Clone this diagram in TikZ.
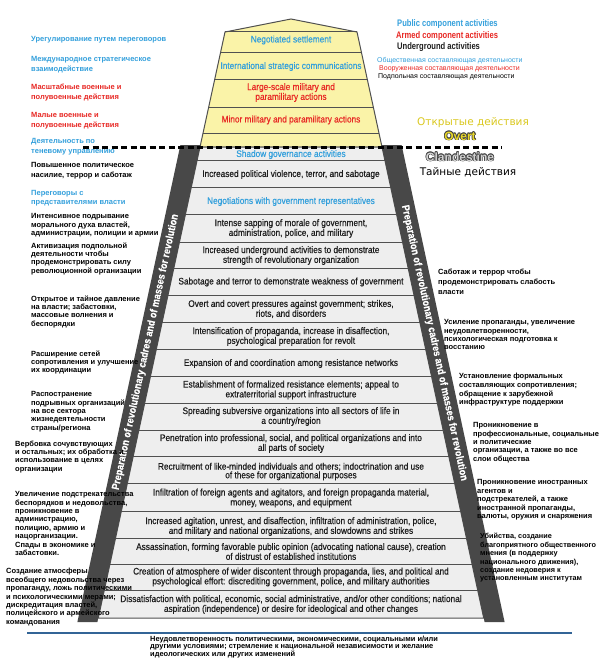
\documentclass[tikz,border=0pt]{standalone}
\usepackage{fontspec}
\setmainfont{Liberation Sans}
\newfontfamily\pyr[FakeStretch=0.87,FakeBold=0.5]{Liberation Sans}
\newfontfamily\legf[FakeStretch=0.8]{Liberation Sans}
\newfontfamily\ruf{Liberation Sans}
\newfontfamily\ovf{DejaVu Sans}
\definecolor{tblue}{RGB}{52,160,220}
\definecolor{tred}{RGB}{232,40,36}
\definecolor{tdark}{RGB}{30,30,30}
\definecolor{yfill}{RGB}{250,243,168}
\definecolor{gfill}{RGB}{238,238,238}
\definecolor{bandc}{RGB}{72,72,72}
\definecolor{olivec}{RGB}{218,200,30}
\definecolor{ovfill}{RGB}{232,215,40}
\definecolor{clfill}{RGB}{210,210,210}
\definecolor{lineblue}{RGB}{50,100,150}
\definecolor{rowline}{RGB}{80,80,80}
\newcommand\outlinedtext[3]{%
\makebox[0pt][l]{\kern0.7pt\textcolor{#1}{#3}}%
\makebox[0pt][l]{\kern-0.7pt\textcolor{#1}{#3}}%
\makebox[0pt][l]{\raisebox{0.7pt}{\textcolor{#1}{#3}}}%
\makebox[0pt][l]{\raisebox{-0.7pt}{\textcolor{#1}{#3}}}%
\makebox[0pt][l]{\kern0.5pt\raisebox{0.5pt}{\textcolor{#1}{#3}}}%
\makebox[0pt][l]{\kern-0.5pt\raisebox{0.5pt}{\textcolor{#1}{#3}}}%
\makebox[0pt][l]{\kern0.5pt\raisebox{-0.5pt}{\textcolor{#1}{#3}}}%
\makebox[0pt][l]{\kern-0.5pt\raisebox{-0.5pt}{\textcolor{#1}{#3}}}%
\textcolor{#2}{#3}}
\begin{document}
\begin{tikzpicture}[x=1pt,y=-1pt,
  rowtxt/.style={font=\pyr\fontsize{9.5}{8.6}\selectfont, align=center, inner sep=0pt, text=tdark},
  bandtxt/.style={font=\pyr\bfseries\fontsize{10.5}{10}\selectfont, text=white, inner sep=0pt},
  sidetxt/.style={font=\ruf\bfseries\fontsize{7.5}{8.4}\selectfont, align=left, anchor=north west, inner sep=0pt, text=black},
  legtxt/.style={font=\legf\bfseries\fontsize{9.5}{11}\selectfont, anchor=west, inner sep=0pt},
  legru/.style={font=\ruf\fontsize{7}{8}\selectfont, anchor=west, inner sep=0pt},
  sepline/.style={rowline, line width=1pt}]
\useasboundingbox (0,0) rectangle (600,669);
\fill[white] (0,0) rectangle (600,669);
% yellow (overt) part
\filldraw[fill=yfill, draw=rowline, line width=1pt] (291,19) -- (357,32) -- (382,147) -- (200,147) -- (225,32) -- cycle;
\foreach \y in {32,53,79,107,133}
  \draw[sepline] ({225-0.216*(\y-32)},\y) -- ({357+0.216*(\y-32)},\y);
% grey (clandestine) part
\filldraw[fill=gfill, draw=rowline, line width=1pt] (200,147) -- (382,147) -- (483.7,618) -- (98.3,618) -- cycle;
\foreach \y in {160,187,214,242,268,295,322,349,376,403,430,456,483,511,538,564,590}
  \draw[sepline] ({200-0.216*(\y-147)},\y) -- ({382+0.216*(\y-147)},\y);
% dark side bands
\fill[bandc] (180.4,145) -- (200.4,145) -- (97.4,622) -- (77.4,622) -- cycle;
\fill[bandc] (381.6,145) -- (401.6,145) -- (504.6,622) -- (484.6,622) -- cycle;
\node[bandtxt, rotate=77.8] (lband) at (145.7,352) {Preparation of revolutionary cadres and of masses for revolution};
\node[bandtxt, rotate=-77.8] (rband) at (434.3,343) {Preparation of revolutionary cadres and of masses for revolution};
% yellow rows text
\node[rowtxt, text=tblue] (y1) at (291,40) {Negotiated settlement};
\node[rowtxt, text=tblue] (y2) at (291,66.5) {International strategic communications};
\node[rowtxt, text=tred] (y3) at (291,92.5) {Large-scale military and\\paramilitary actions};
\node[rowtxt, text=tred] (y4) at (291,120) {Minor military and paramilitary actions};
% grey rows text
\node[rowtxt, text=tblue] (r0) at (291,154.5) {Shadow governance activities};
\node[rowtxt] (r1) at (291,174.5) {Increased political violence, terror, and sabotage};
\node[rowtxt, text=tblue] (r2) at (291,201.5) {Negotiations with government representatives};
\node[rowtxt] (r3) at (291,228.5) {Intense sapping of morale of government,\\administration, police, and military};
\node[rowtxt] (r4) at (291,255.5) {Increased underground activities to demonstrate\\strength of revolutionary organization};
\node[rowtxt] (r5) at (291,282) {Sabotage and terror to demonstrate weakness of government};
\node[rowtxt] (r6) at (291,309) {Overt and covert pressures against government; strikes,\\riots, and disorders};
\node[rowtxt] (r7) at (291,336.5) {Intensification of propaganda, increase in disaffection,\\psychological preparation for revolt};
\node[rowtxt] (r8) at (291,363.5) {Expansion of and coordination among resistance networks};
\node[rowtxt] (r9) at (291,390) {Establishment of formalized resistance elements; appeal to\\extraterritorial support infrastructure};
\node[rowtxt] (r10) at (291,416.5) {Spreading subversive organizations into all sectors of life in\\a country/region};
\node[rowtxt] (r11) at (291,443.5) {Penetration into professional, social, and political organizations and into\\all parts of society};
\node[rowtxt] (r12) at (291,471.5) {Recruitment of like-minded individuals and others; indoctrination and use\\of these for organizational purposes};
\node[rowtxt] (r13) at (291,498) {Infiltration of foreign agents and agitators, and foreign propaganda material,\\money, weapons, and equipment};
\node[rowtxt] (r14) at (291,526.5) {Increased agitation, unrest, and disaffection, infiltration of administration, police,\\and military and national organizations, and slowdowns and strikes};
\node[rowtxt] (r15) at (291,551.5) {Assassination, forming favorable public opinion (advocating national cause), creation\\of distrust of established institutions};
\node[rowtxt] (r16) at (291,577) {Creation of atmosphere of wider discontent through propaganda, lies, and political and\\psychological effort: discrediting government, police, and military authorities};
\node[rowtxt] (r17) at (291,604.5) {Dissatisfaction with political, economic, social administrative, and/or other conditions; national\\aspiration (independence) or desire for ideological and other changes};
% legend
\node[legtxt, text=tblue] (lg1) at (397,24) {Public component activities};
\node[legtxt, text=tred] (lg2) at (396,36) {Armed component activities};
\node[legtxt, text=tdark] (lg3) at (397,47) {Underground activities};
\node[legru, text=tblue] (lr1) at (377,61) {Общественная составляющая деятельности};
\node[legru, text=tred] (lr2) at (379,69) {Вооруженная составляющая деятельности};
\node[legru, text=black] (lr3) at (378,77) {Подпольная составляющая деятельности};
% overt / clandestine
\node[font=\ovf\fontsize{10.5}{12}\selectfont, text=olivec, inner sep=0pt] (ovru) at (473,123) {Открытые действия};
\node[font=\bfseries\fontsize{12}{14}\selectfont, inner sep=0pt] (ov) at (460,136) {\outlinedtext{black!75}{ovfill}{Overt}};
\node[font=\bfseries\fontsize{12}{14}\selectfont, inner sep=0pt] (cl) at (460,157) {\outlinedtext{black!75}{clfill}{Clandestine}};
\node[font=\ovf\fontsize{10.5}{12}\selectfont, text=black, inner sep=0pt] (clru) at (468,172) {Тайные действия};
% left side texts
\node[sidetxt, text=tblue] (a1) at (31,36.3) {Урегулирование путем переговоров};
\node[sidetxt, text=tblue, font=\ruf\bfseries\fontsize{7.5}{9.5}\selectfont] (a2) at (31,56.3) {Международное стратегическое\\взаимодействие};
\node[sidetxt, text=tred, font=\ruf\bfseries\fontsize{7.5}{10}\selectfont] (a3) at (31,83.3) {Масштабные военные и\\полувоенные действия};
\node[sidetxt, text=tred, font=\ruf\bfseries\fontsize{7.5}{10}\selectfont] (a4) at (31,112.3) {Малые военные и\\полувоенные действия};
\node[sidetxt, text=tblue, font=\ruf\bfseries\fontsize{7.5}{10}\selectfont] (a5) at (31,138.3) {Деятельность по\\теневому управлению};
\node[sidetxt, font=\ruf\bfseries\fontsize{7.5}{10}\selectfont] (a6) at (31,162.3) {Повышенное политическое\\насилие, террор и саботаж};
\node[sidetxt, text=tblue, font=\ruf\bfseries\fontsize{7.5}{9}\selectfont] (a7) at (31,190.3) {Переговоры с\\представителями власти};
\node[sidetxt] (a8) at (31,213.3) {Интенсивное подрывание\\морального духа властей,\\администрации, полиции и армии};
\node[sidetxt] (a9) at (31,242.3) {Активизация подпольной\\деятельности чтобы\\продемонстрировать силу\\революционной организации};
\node[sidetxt] (a10) at (31,295.3) {Открытое и тайное давление\\на власти; забастовки,\\массовые волнения и\\беспорядки};
\node[sidetxt] (a11) at (31,350.3) {Расширение сетей\\сопротивления и улучшение\\их координации};
\node[sidetxt] (a12) at (31,391.3) {Распостранение\\подрывных организаций\\на все сектора\\жизнедеятельности\\страны/региона};
\node[sidetxt] (a13) at (15,440.3) {Вербовка сочувствующих\\и остальных; их обработка и\\использование в целях\\организации};
\node[sidetxt] (a14) at (15,491.3) {Увеличение подстрекательства\\беспорядков и недовольства,\\проникновение в\\администрацию,\\полицию, армию и\\нацорганизации.\\Спады в экономике и\\забастовки.};
\node[sidetxt] (a15) at (6,568.3) {Создание атмосферы\\всеобщего недовольства через\\пропаганду, ложь политическими\\и психологическими мерами;\\дискредитация властей,\\полицейского и армейского\\командования};
% right side texts
\node[sidetxt, font=\ruf\bfseries\fontsize{7.5}{10.3}\selectfont] (b1) at (438,268.3) {Саботаж и террор чтобы\\продемонстрировать слабость\\власти};
\node[sidetxt] (b2) at (444,319.3) {Усиление пропаганды, увеличение\\неудовлетворенности,\\психологическая подготовка к\\восстанию};
\node[sidetxt, font=\ruf\bfseries\fontsize{7.5}{8.6}\selectfont] (b3) at (459,373.3) {Установление формальных\\составляющих сопротивления;\\обращение к зарубежной\\инфраструктуре поддержки};
\node[sidetxt] (b4) at (473,422.3) {Проникновение в\\профессиональные, социальные\\и политические\\организации, а также во все\\слои общества};
\node[sidetxt, font=\ruf\bfseries\fontsize{7.5}{8.5}\selectfont] (b5) at (477,479.3) {Проникновение иностранных\\агентов и\\подстрекателей, а также\\иностранной пропаганды,\\валюты, оружия и снаряжения};
\node[sidetxt, font=\ruf\bfseries\fontsize{7.3}{8.4}\selectfont] (b6) at (480,533.3) {Убийства, создание\\благоприятного общественного\\мнения (в поддержку\\национального движения),\\создание недоверия к\\установленным институтам};
% overt / clandestine boundary
\coordinate (dashL) at (83,147);
\coordinate (dashR) at (502,147);
\draw[black, line width=3pt, dash pattern=on 6pt off 3.5pt] (dashL) -- (dashR);
% bottom separator and text
\coordinate (bl) at (27,633);
\coordinate (br) at (572,633);
\draw[lineblue, line width=1.3pt] (bl) -- (br);
\node[sidetxt, font=\ruf\bfseries\fontsize{7.45}{7.6}\selectfont] (c1) at (150,635.5) {Неудовлетворенность политическими, экономическими, социальными и/или\\другими условиями; стремление к национальной независимости и желание\\идеологических или других изменений};
\end{tikzpicture}
\end{document}
